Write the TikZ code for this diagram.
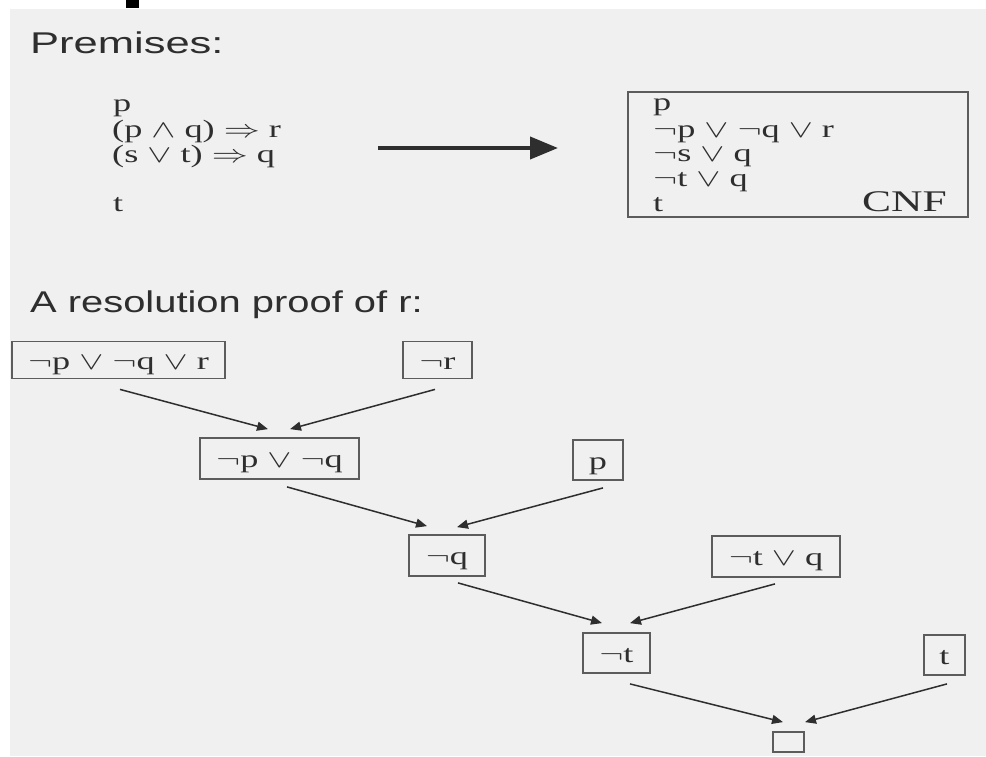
\documentclass[tikz,border=0pt]{standalone}
\usepackage{fontspec}
\usepackage{graphicx}
\setmainfont{Liberation Serif}
\newfontfamily\headfont{Liberation Sans}
\usetikzlibrary{arrows.meta,calc}
\definecolor{bg}{HTML}{F0F0F0}
\definecolor{ink}{HTML}{2E2E2E}
\definecolor{boxline}{HTML}{5C5C5C}
\newcommand\sr[1]{\scalebox{1.45}[1]{#1}}
\newcommand\hd[2]{\scalebox{#1}[1]{\headfont #2}}
\tikzset{
  txt/.style={inner sep=0, text=ink, font=\fontsize{25}{30}\selectfont, anchor=base west},
  heading/.style={inner sep=0, text=ink, font=\fontsize{30}{36}\selectfont, anchor=base west},
  clause/.style={draw=boxline, line width=1.8pt, inner sep=0, text=ink,
    font=\fontsize{25}{30}\selectfont, text height=21pt, text depth=3pt},
  arr/.style={draw=ink, line width=1.5pt, -{Triangle[length=11pt,width=9pt]}},
  bigarr/.style={draw=ink, line width=4pt, -{Triangle[length=28pt,width=22pt]}},
}
\begin{document}
\begin{tikzpicture}[x=1pt,y=-1pt]
\useasboundingbox (0,0) rectangle (986,756);
\fill[white] (0,0) rectangle (986,756);
\fill[bg] (10,9) rectangle (986,756);
\fill[black] (126,0) rectangle (139,8);

% headings
\node[heading] (h1) at (30,53) {\hd{1.45}{Premises:}};
\node[heading] (h2) at (30,312) {\hd{1.33}{A resolution proof of r:}};

% premises
\node[txt] (pr1) at (113,111) {\sr{p}};
\node[txt] (pr2) at (112,137) {\sr{(p $\wedge$ q) $\Rightarrow$ r}};
\node[txt] (pr3) at (112,162) {\sr{(s $\vee$ t) $\Rightarrow$ q}};
\node[txt] (pr4) at (113,211) {\sr{t}};

% arrow to CNF
\coordinate (a1) at (378,148);
\coordinate (a2) at (558,148);
\draw[bigarr] (a1) -- (a2);

% CNF box
\node[draw=boxline, line width=1.8pt, inner sep=0, minimum width=340pt, minimum height=125pt] (cnf) at (798,154.5) {};
\node[txt] (c1) at (653,110) {\sr{p}};
\node[txt] (c2) at (653,137) {\sr{$\neg$p $\vee$ $\neg$q $\vee$ r}};
\node[txt] (c3) at (653,161) {\sr{$\neg$s $\vee$ q}};
\node[txt] (c4) at (653,186) {\sr{$\neg$t $\vee$ q}};
\node[txt] (c5) at (653,211) {\sr{t}};
\node[txt, anchor=base east, font=\fontsize{30}{36}\selectfont] (cnflabel) at (947,211) {\sr{CNF}};

% resolution tree
\node[clause, minimum width=213pt, minimum height=37pt] (b1) at (118.5,360) {\sr{$\neg$p $\vee$ $\neg$q $\vee$ r}};
\node[clause, minimum width=69pt, minimum height=37pt] (nr) at (437.5,360) {\sr{$\neg$r}};
\node[clause, minimum width=159pt, minimum height=41pt] (npq) at (279.5,458.5) {\sr{$\neg$p $\vee$ $\neg$q}};
\node[clause, minimum width=50pt, minimum height=40pt] (p) at (598,460) {\sr{p}};
\node[clause, minimum width=76pt, minimum height=41pt] (nq) at (447,555.5) {\sr{$\neg$q}};
\node[clause, minimum width=128pt, minimum height=41pt] (ntq) at (776,556.5) {\sr{$\neg$t $\vee$ q}};
\node[clause, minimum width=67pt, minimum height=40pt] (nt) at (616.5,653) {\sr{$\neg$t}};
\node[clause, minimum width=41pt, minimum height=40pt] (t) at (944.5,655) {\sr{t}};
\node[clause, minimum width=31pt, minimum height=20pt, text height=0pt, text depth=0pt] (e) at (788.5,742) {};

\draw[arr] ($(b1.south)+(1.5,10)$) -- ($(npq.north)+(-11.5,-8)$);
\draw[arr] ($(nr.south)+(-2.5,10)$) -- ($(npq.north)+(10.5,-8)$);
\draw[arr] ($(npq.south)+(7.5,7)$) -- ($(nq.north)+(-20,-8)$);
\draw[arr] ($(p.south)+(5,7)$) -- ($(nq.north)+(10,-7)$);
\draw[arr] ($(nq.south)+(11,6)$) -- ($(nt.north)+(-14.5,-9)$);
\draw[arr] ($(ntq.south)+(-1,6)$) -- ($(nt.north)+(13.5,-9)$);
\draw[arr] ($(nt.south)+(13.5,10)$) -- ($(e.north)+(-5.5,-9)$);
\draw[arr] ($(t.south)+(2.5,8)$) -- ($(e.north)+(16.5,-9)$);
\end{tikzpicture}
\end{document}
